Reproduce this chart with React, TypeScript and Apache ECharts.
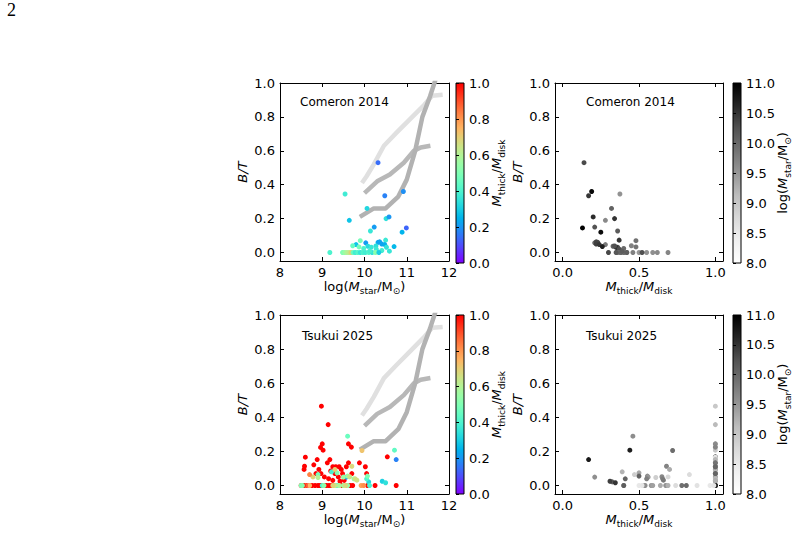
import React, { useEffect, useRef } from 'react';
import * as echarts from 'echarts';

// ---------------- data ----------------
const comeronLogM = [10.32, 9.54, 10.48, 10.92, 10.06, 9.64, 10.51, 10.58, 10.23, 10.99,
  10.89, 10.14, 9.90, 10.50, 10.03, 9.80, 9.72, 10.08, 10.16, 10.32,
  10.36, 10.41, 10.48, 10.52, 10.27, 10.70, 10.59, 10.41, 10.28, 9.98,
  9.87, 9.18, 9.48, 9.53, 9.58, 9.63, 9.68, 9.73, 9.78, 9.84,
  9.90, 9.96, 10.02, 10.10, 10.18, 10.26, 10.34, 10.12];
const comeronBT = [0.53, 0.345, 0.335, 0.36, 0.26, 0.19, 0.20, 0.21, 0.15, 0.145,
  0.12, 0.127, 0.07, 0.073, 0.057, 0.047, 0.04, 0.037, 0.031, 0.06,
  0.063, 0.05, 0.047, 0.031, 0.039, 0.035, 0.008, 0.012, 0.02, 0.024,
  0.033, 0, 0, 0, 0, 0, 0, 0, 0, 0,
  0, 0, 0, 0, 0, 0, 0, 0.008];
const comeronFthick = [0.14, 0.375, 0.17, 0.19, 0.32, 0.28, 0.34, 0.20, 0.21, 0.13,
  0.25, 0.36, 0.48, 0.37, 0.21, 0.28, 0.45, 0.33, 0.36, 0.23,
  0.22, 0.22, 0.24, 0.35, 0.34, 0.26, 0.36, 0.38, 0.37, 0.40,
  0.48, 0.40, 0.50, 0.55, 0.59, 0.62, 0.69, 0.46, 0.38, 0.42,
  0.36, 0.40, 0.38, 0.42, 0.35, 0.52, 0.30, 0.39];

const tsukuiLogM = [8.98, 9.14, 9.00, 8.96, 9.02, 9.62, 9.69, 10.54, 8.60, 8.58,
  8.57, 8.88, 8.80, 8.92, 8.85, 8.97, 9.05, 9.18, 9.12, 9.25,
  9.32, 9.40, 9.45, 9.20, 9.30, 9.38, 9.48, 9.52, 9.42, 9.62,
  9.57, 9.70, 9.88, 10.02, 10.05, 9.15, 9.25, 8.55, 8.62, 8.70,
  8.76, 8.83, 8.90, 8.95, 9.00, 9.06, 9.10, 9.16, 9.22, 9.28,
  9.47, 9.58, 9.66, 9.72, 10.07, 10.25, 10.75, 9.60, 10.71, 10.75,
  9.57, 9.94, 9.22, 10.10, 10.42, 10.50, 10.05, 9.35, 9.00, 8.90,
  9.35, 9.04, 9.70, 9.30, 9.60, 9.50, 9.75, 8.90, 9.65, 9.78,
  9.82, 8.78, 8.70, 9.60, 9.50, 9.40, 9.30, 9.55, 9.25, 8.70,
  9.92, 9.98, 8.60, 8.50, 8.55, 8.50, 8.53, 10.07, 10.12];
const tsukuiBT = [0.465, 0.357, 0.244, 0.223, 0.207, 0.244, 0.225, 0.168, 0.166, 0.113,
  0.094, 0.152, 0.121, 0.094, 0.070, 0.070, 0.050, 0.152, 0.133, 0.110,
  0.110, 0.110, 0.094, 0.085, 0.070, 0.050, 0.070, 0.030, 0.025, 0.133,
  0.110, 0.070, 0.133, 0.110, 0.070, 0.040, 0.030, 0, 0, 0,
  0, 0, 0, 0, 0, 0, 0, 0, 0, 0,
  0, 0, 0, 0, 0, 0, 0, 0.289, 0.207, 0.152,
  0.049, 0.205, 0.080, 0.021, 0.025, 0.016, 0.039, 0, 0, 0.064,
  0.074, 0, 0.113, 0.094, 0.055, 0.049, 0.039, 0.047, 0.051, 0.039,
  0.031, 0.050, 0.064, 0, 0, 0, 0, 0, 0, 0,
  0, 0, 0, 0, 0, 0, 0, 0.055, 0];
const tsukuiFthick = [1, 1, 1, 1, 1, 1, 1, 1, 1, 1,
  1, 1, 1, 1, 1, 1, 1, 1, 1, 1,
  1, 1, 1, 1, 1, 1, 1, 1, 1, 1,
  1, 1, 1, 1, 1, 1, 1, 1, 1, 1,
  1, 1, 1, 1, 1, 1, 1, 1, 1, 1,
  1, 1, 1, 1, 1, 1, 1, 0.46, 0.44, 0.17,
  0.21, 0.72, 0.39, 0.325, 0.31, 0.345, 0.41, 0.40, 0.40, 0.47,
  0.50, 0.53, 0.68, 0.70, 0.555, 0.56, 0.55, 0.61, 0.65, 0.655,
  0.66, 0.69, 0.83, 0.54, 0.58, 0.59, 0.64, 0.675, 0.69, 0.74,
  0.78, 0.81, 0.88, 0.965, 0.99, 0.50, 0.52, 0.50, 0.40];

// model relations (grey curves)
const curveLightX = [9.94, 10.05, 10.22, 10.46, 10.77, 11.09, 11.41, 11.6, 11.85];
const curveLightY = [0.41, 0.45, 0.52, 0.63, 0.71, 0.79, 0.87, 0.925, 0.93];
const curveMidX = [10.0, 10.3, 10.6, 10.93, 11.17, 11.33, 11.56];
const curveMidY = [0.35, 0.42, 0.46, 0.53, 0.60, 0.62, 0.63];
const curveDarkX = [9.89, 10.22, 10.5, 10.8, 11.0, 11.2, 11.37, 11.55, 11.72];
const curveDarkY = [0.21, 0.26, 0.26, 0.33, 0.43, 0.60, 0.80, 0.92, 1.05];

const panelTitles = ['Comeron 2014', 'Comeron 2014', 'Tsukui 2025', 'Tsukui 2025'];

// ---------------- styling helpers ----------------
const FONT = 'DejaVu Sans';
const BLACK = '#000';

const rainbow = (t: number) => {
  const r = Math.min(1, Math.abs(2 * t - 0.5));
  const g = Math.sin(Math.PI * t);
  const b = Math.cos((Math.PI * t) / 2);
  const c = (v: number) => Math.round(Math.max(0, Math.min(1, v)) * 255);
  return `rgb(${c(r)},${c(g)},${c(b)})`;
};
const rainbowColors = Array.from({ length: 21 }, (_, i) => rainbow(i / 20));
const greyColors = ['#ffffff', '#f0f0f0', '#d9d9d9', '#bdbdbd', '#969696', '#737373', '#525252', '#252525', '#000000'];

const gradient = (cols: string[]) =>
  new echarts.graphic.LinearGradient(0, 1, 0, 0,
    cols.map((c, i) => ({ offset: i / (cols.length - 1), color: c })));

const rich = {
  a: { fontSize: 13, fontFamily: FONT, color: BLACK, lineHeight: 16, verticalAlign: 'top' },
  i: { fontSize: 13, fontFamily: FONT, fontStyle: 'italic', color: BLACK, lineHeight: 16, verticalAlign: 'top' },
  s: { fontSize: 9, fontFamily: FONT, color: BLACK, lineHeight: 9, verticalAlign: 'bottom' },
};
const logMName = '{a|log(}{i|M}{s|star}{a|/M}{s|⊙}{a|)}';
const fName = '{i|M}{s|thick}{a|/}{i|M}{s|disk}';

const isMult = (v: number, step: number) => Math.abs(v / step - Math.round(v / step)) < 1e-6;

const lineStyle = { color: BLACK, width: 1 };

function xAxisPair(gi: number, min: number, max: number, extra: any, fmt: (v: number) => string, name: string) {
  const base = {
    type: 'value', gridIndex: gi, min, max, ...extra,
    splitLine: { show: false },
    axisLine: { show: true, onZero: false, lineStyle },
    axisTick: { show: true, inside: true, length: 4, lineStyle },
  };
  return [
    {
      ...base, position: 'bottom',
      axisLabel: { color: BLACK, fontSize: 13, fontFamily: FONT, margin: 5, formatter: fmt, hideOverlap: false },
      name, nameLocation: 'middle', nameGap: 16,
      nameTextStyle: { rich },
    },
    { ...base, position: 'top', axisLabel: { show: false } },
  ];
}

function yAxisPair(gi: number) {
  const base = {
    type: 'value', gridIndex: gi, min: -0.05, max: 1.0, splitNumber: 5,
    splitLine: { show: false },
    axisLine: { show: true, onZero: false, lineStyle },
    axisTick: { show: true, inside: true, length: 4, lineStyle },
  };
  return [
    {
      ...base, position: 'left',
      axisLabel: {
        color: BLACK, fontSize: 13, fontFamily: FONT, margin: 5, hideOverlap: false,
        formatter: (v: number) => (isMult(v, 0.2) ? v.toFixed(1) : ''),
      },
      name: 'B/T', nameLocation: 'middle', nameGap: 31,
      nameTextStyle: { fontSize: 13, fontFamily: FONT, fontStyle: 'italic', color: BLACK },
    },
    { ...base, position: 'right', axisLabel: { show: false } },
  ];
}

export default function App() {
  const ref = useRef<HTMLDivElement>(null);

  useEffect(() => {
    if (!ref.current) return;
    const chart = echarts.init(ref.current, null, { renderer: 'svg' });

    const comeronA = comeronLogM.map((m, i) => [m, comeronBT[i], comeronFthick[i]]);
    const comeronB = comeronLogM.map((m, i) => [comeronFthick[i], comeronBT[i], m]);
    const tsukuiA = tsukuiLogM.map((m, i) => [m, tsukuiBT[i], tsukuiFthick[i]]);
    const tsukuiB = tsukuiLogM.map((m, i) => [tsukuiFthick[i], tsukuiBT[i], m]);

    const pair = (xs: number[], ys: number[]) => xs.map((x, i) => [x, ys[i]]);

    const mainGrids = [
      { left: 280, top: 83, width: 169, height: 178 },
      { left: 555, top: 83, width: 168, height: 178 },
      { left: 280, top: 315, width: 169, height: 179 },
      { left: 555, top: 315, width: 168, height: 179 },
    ];
    const cbarGrids = [
      { left: 456, top: 83, width: 8, height: 180 },
      { left: 733, top: 83, width: 8, height: 180 },
      { left: 456, top: 315, width: 8, height: 179 },
      { left: 733, top: 315, width: 8, height: 179 },
    ];

    const grids: any[] = [
      ...mainGrids.map((g) => ({ ...g, show: false, outerBoundsMode: 'none', containLabel: false })),
      ...cbarGrids.map((g, i) => ({
        ...g, show: true, outerBoundsMode: 'none', containLabel: false,
        backgroundColor: gradient(i % 2 === 0 ? rainbowColors : greyColors),
        borderColor: BLACK, borderWidth: 1,
      })),
    ];

    const massFmt = (v: number) => String(v);
    const fFmt = (v: number) => (isMult(v, 0.5) ? v.toFixed(1) : '');

    const xAxes: any[] = [
      ...xAxisPair(0, 8, 12, { interval: 1 }, massFmt, logMName),
      ...xAxisPair(1, -0.05, 1.05, { splitNumber: 2 }, fFmt, fName),
      ...xAxisPair(2, 8, 12, { interval: 1 }, massFmt, logMName),
      ...xAxisPair(3, -0.05, 1.05, { splitNumber: 2 }, fFmt, fName),
      ...[4, 5, 6, 7].map((gi) => ({ type: 'value', gridIndex: gi, min: 0, max: 1, show: false })),
    ];

    const cbarY = (gi: number, isMass: boolean) => ({
      type: 'value', gridIndex: gi, position: 'right',
      min: isMass ? 8 : 0, max: isMass ? 11 : 1, interval: isMass ? 0.5 : 0.2,
      splitLine: { show: false },
      axisLine: { show: false },
      axisTick: { show: true, inside: false, length: 3, lineStyle },
      axisLabel: {
        color: BLACK, fontSize: 13, fontFamily: FONT, margin: 5,
        formatter: (v: number) => v.toFixed(1),
      },
      name: isMass ? logMName : fName,
      nameLocation: 'middle', nameRotate: 90, nameGap: isMass ? 35 : 26,
      nameMoveOverlap: false,
      nameTextStyle: { rich },
    });

    const yAxes: any[] = [
      ...yAxisPair(0), ...yAxisPair(1), ...yAxisPair(2), ...yAxisPair(3),
      cbarY(4, false), cbarY(5, true), cbarY(6, false), cbarY(7, true),
    ];

    const curve = (xi: number, xs: number[], ys: number[], color: string) => ({
      type: 'line', xAxisIndex: xi, yAxisIndex: xi, data: pair(xs, ys),
      showSymbol: false, symbol: 'none', clip: true, z: 2,
      lineStyle: { color, width: 4.5, cap: 'butt', join: 'round' },
      silent: true,
    });
    const scatter = (xi: number, data: number[][]) => ({
      type: 'scatter', xAxisIndex: xi, yAxisIndex: xi, data,
      symbolSize: 5, z: 3, itemStyle: { opacity: 1 },
    });

    const series: any[] = [
      curve(0, curveLightX, curveLightY, '#e0e0e0'),
      curve(0, curveMidX, curveMidY, '#b8b8b8'),
      curve(0, curveDarkX, curveDarkY, '#b2b2b2'),
      scatter(0, comeronA),
      scatter(2, comeronB),
      curve(4, curveLightX, curveLightY, '#e0e0e0'),
      curve(4, curveMidX, curveMidY, '#b8b8b8'),
      curve(4, curveDarkX, curveDarkY, '#b2b2b2'),
      scatter(4, tsukuiA),
      scatter(6, tsukuiB),
    ];

    const titlePos = [[300, 96], [586, 96], [302, 330], [586, 330]];
    const titles = panelTitles.map((t, i) => ({
      text: t, left: titlePos[i][0], top: titlePos[i][1], padding: 0,
      textStyle: { fontSize: 12, fontWeight: 'normal', fontFamily: FONT, color: BLACK },
    }));

    chart.setOption({
      animation: false,
      backgroundColor: '#fff',
      title: titles,
      grid: grids,
      xAxis: xAxes,
      yAxis: yAxes,
      visualMap: [
        { type: 'continuous', show: false, min: 0, max: 1, dimension: 2, seriesIndex: [3, 8], inRange: { color: rainbowColors } },
        { type: 'continuous', show: false, min: 8, max: 11, dimension: 2, seriesIndex: [4, 9], inRange: { color: greyColors } },
      ],
      graphic: [
        { type: 'text', left: 7, top: 1, style: { text: '2', font: '18px "Liberation Serif"', fill: BLACK } },
      ],
      series,
    });

    return () => chart.dispose();
  }, []);

  return (
    <div
      ref={ref}
      style={{ position: 'fixed', left: 0, top: 0, width: 793, height: 549, background: '#fff' }}
    />
  );
}
